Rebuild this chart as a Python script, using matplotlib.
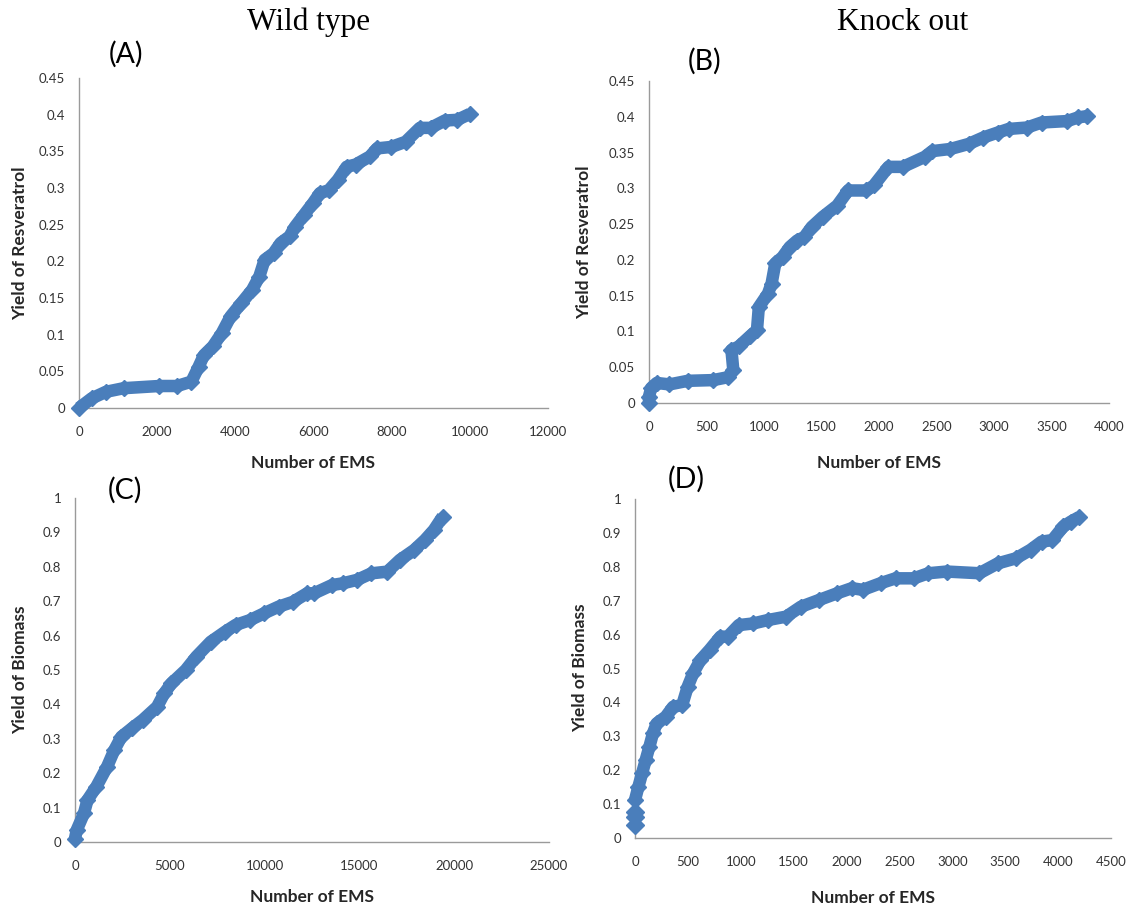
import matplotlib
matplotlib.use("Agg")
import matplotlib.pyplot as plt

# ---- data: yield versus number of elementary modes (EMS) ----
wt_res_x = [0, 320, 685, 1142, 2055, 2511, 2877, 3059, 3196, 3425, 3653, 3881, 4155,
            4429, 4612, 4749, 4977, 5160, 5388, 5525, 5753, 5982, 6164, 6393, 6621,
            6849, 7078, 7443, 7626, 7991, 8356, 8721, 8995, 9361, 9680, 10000]
wt_res_y = [0.0, 0.013, 0.022, 0.027, 0.030, 0.030, 0.036, 0.056, 0.072, 0.084, 0.102,
            0.125, 0.143, 0.161, 0.179, 0.202, 0.211, 0.225, 0.234, 0.247, 0.263, 0.279,
            0.293, 0.297, 0.311, 0.329, 0.332, 0.343, 0.354, 0.356, 0.363, 0.382, 0.382,
            0.392, 0.393, 0.401]

ko_res_x = [0, 0, 19, 67, 178, 337, 558, 685, 733, 717, 781, 876, 939, 955, 1035, 1066,
            1098, 1161, 1224, 1288, 1351, 1415, 1510, 1637, 1732, 1891, 1955, 2082, 2208,
            2398, 2462, 2621, 2779, 2906, 3033, 3128, 3287, 3414, 3636, 3730, 3810]
ko_res_y = [0.0, 0.009, 0.021, 0.028, 0.026, 0.031, 0.032, 0.036, 0.046, 0.074, 0.079,
            0.093, 0.102, 0.134, 0.153, 0.167, 0.195, 0.204, 0.218, 0.227, 0.232, 0.246,
            0.260, 0.276, 0.297, 0.297, 0.304, 0.330, 0.330, 0.344, 0.352, 0.355, 0.362,
            0.371, 0.378, 0.383, 0.385, 0.392, 0.394, 0.399, 0.401]

wt_bio_x = [0, 94, 471, 659, 1130, 1695, 2072, 2448, 3013, 3578, 4331, 4708, 5085, 5838,
            6403, 7156, 7910, 8475, 9228, 9981, 10734, 11488, 12241, 12618, 13559, 14124,
            14878, 15631, 16478, 17137, 17891, 18456, 18927, 19397]
wt_bio_y = [0.01, 0.035, 0.083, 0.122, 0.161, 0.219, 0.267, 0.306, 0.331, 0.355, 0.393,
            0.432, 0.461, 0.500, 0.539, 0.582, 0.611, 0.631, 0.645, 0.665, 0.684, 0.698,
            0.723, 0.723, 0.747, 0.752, 0.762, 0.781, 0.786, 0.820, 0.849, 0.878, 0.907,
            0.946]

ko_bio_x0 = [0, 0, 0]
ko_bio_y0 = [0.038, 0.063, 0.078]
ko_bio_x = [0, 32, 67, 101, 136, 170, 205, 291, 360, 446, 498, 550, 619, 705, 808, 877,
            981, 1119, 1257, 1429, 1567, 1739, 1912, 2050, 2153, 2325, 2463, 2636, 2774,
            2946, 3256, 3429, 3601, 3739, 3843, 3946, 4050, 4119, 4200]
ko_bio_y = [0.112, 0.151, 0.191, 0.230, 0.269, 0.309, 0.338, 0.358, 0.387, 0.392, 0.446,
            0.486, 0.525, 0.555, 0.594, 0.594, 0.628, 0.633, 0.643, 0.653, 0.682, 0.702,
            0.722, 0.737, 0.732, 0.752, 0.766, 0.766, 0.781, 0.786, 0.781, 0.810, 0.825,
            0.850, 0.874, 0.879, 0.919, 0.933, 0.947]

res_ticks = [0, 0.05, 0.1, 0.15, 0.2, 0.25, 0.3, 0.35, 0.4, 0.45]
bio_ticks = [0, 0.1, 0.2, 0.3, 0.4, 0.5, 0.6, 0.7, 0.8, 0.9, 1]

W, H = 1132, 915
BLUE = "#4a7ebb"
SANS = ["Lato", "DejaVu Sans"]

fig = plt.figure(figsize=(W / 100, H / 100), dpi=100)
fig.patch.set_facecolor("white")


def add_axes(left, top, right, bottom):
    return fig.add_axes([left / W, 1 - bottom / H, (right - left) / W, (bottom - top) / H])


def ftext(x, y, s, **kw):
    fig.text(x / W, 1 - y / H, s, **kw)


def style(ax, xmax, xstep, yticks):
    ax.set_xlim(0, xmax)
    ax.set_ylim(0, yticks[-1])
    xt = list(range(0, xmax + 1, xstep))
    ax.set_xticks(xt)
    ax.set_xticklabels([str(v) for v in xt])
    ax.set_yticks(yticks)
    ax.set_yticklabels([f"{v:g}" for v in yticks])
    for s in ("top", "right"):
        ax.spines[s].set_visible(False)
    for s in ("left", "bottom"):
        ax.spines[s].set_color("#9a9a9a")
        ax.spines[s].set_linewidth(1.0)
    ax.tick_params(axis="both", length=0, labelsize=9.5, labelcolor="#333333")
    ax.tick_params(axis="x", pad=13)
    ax.tick_params(axis="y", pad=10)
    for lab in ax.get_xticklabels() + ax.get_yticklabels():
        lab.set_family(SANS)


def curve(ax, x, y):
    ax.plot(x, y, color=BLUE, lw=9, marker="D", ms=8.5, mec=BLUE, mfc=BLUE,
            solid_joinstyle="round", solid_capstyle="butt", clip_on=False, zorder=3)


# (A) wild type, resveratrol
axA = add_axes(79, 78, 548, 408)
curve(axA, wt_res_x, wt_res_y)
style(axA, 12000, 2000, res_ticks)

# (B) knock out, resveratrol
axB = add_axes(649, 81, 1109, 403)
curve(axB, ko_res_x, ko_res_y)
style(axB, 4000, 500, res_ticks)

# (C) wild type, biomass
axC = add_axes(75, 498, 549, 842)
curve(axC, wt_bio_x, wt_bio_y)
style(axC, 25000, 5000, bio_ticks)

# (D) knock out, biomass
axD = add_axes(635, 499, 1111, 838)
axD.plot(ko_bio_x0, ko_bio_y0, ls="none", marker="D", ms=9, color=BLUE,
         clip_on=False, zorder=3)
curve(axD, ko_bio_x, ko_bio_y)
style(axD, 4500, 500, bio_ticks)

# column headings
ftext(309, 22, "Wild type", ha="center", va="center",
      family="Liberation Serif", fontsize=22.5)
ftext(903, 22, "Knock out", ha="center", va="center",
      family="Liberation Serif", fontsize=22.5)

# panel letters
for (px, py, s) in [(126, 54, "(A)"), (705, 61, "(B)"), (125, 490, "(C)"), (686, 479, "(D)")]:
    ftext(px, py, s, ha="center", va="center", family=SANS, fontsize=20.5)

# axis titles
for (px, py) in [(313, 463), (879, 463), (312, 897), (873, 898)]:
    ftext(px, py, "Number of EMS", ha="center", va="center", family=SANS,
          fontsize=12.5, fontweight="bold", color="#262626")
for (px, py, s) in [(20, 243, "Yield of Resveratrol"), (584, 242, "Yield of Resveratrol"),
                    (20, 670, "Yield of Biomass"), (580, 668, "Yield of Biomass")]:
    ftext(px, py, s, ha="center", va="center", rotation=90, family=SANS,
          fontsize=12.5, fontweight="bold", color="#262626")

fig.savefig("out.png", dpi=100, facecolor="white")
